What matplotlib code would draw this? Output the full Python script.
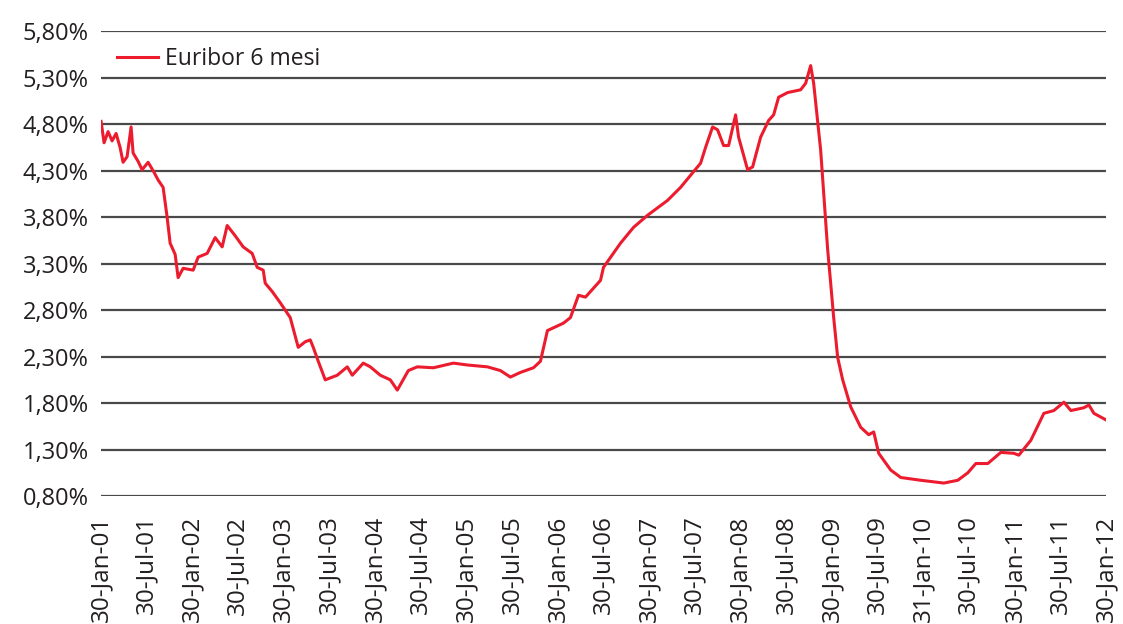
import matplotlib
matplotlib.use("Agg")
import matplotlib.pyplot as plt
import pandas as pd

plt.rcParams['font.family'] = ['Open Sans', 'DejaVu Sans']

# Euribor 6 mesi (%)
DATES = [
    "2001-01-30", "2001-02-11", "2001-02-27", "2001-03-15", "2001-03-31", "2001-04-16",
    "2001-04-28", "2001-05-14", "2001-05-30", "2001-06-07", "2001-06-27", "2001-07-13",
    "2001-08-06", "2001-08-26", "2001-09-15", "2001-10-05", "2001-10-21", "2001-11-02",
    "2001-11-22", "2001-12-04", "2001-12-24", "2002-01-13", "2002-02-02", "2002-02-22",
    "2002-03-30", "2002-05-01", "2002-05-29", "2002-06-18", "2002-07-20", "2002-08-21",
    "2002-09-26", "2002-10-16", "2002-11-09", "2002-11-17", "2002-12-15", "2003-01-16",
    "2003-02-25", "2003-03-29", "2003-04-26", "2003-05-16", "2003-05-28", "2003-06-17",
    "2003-07-15", "2003-09-01", "2003-10-11", "2003-10-31", "2003-12-14", "2004-01-11",
    "2004-02-20", "2004-03-31", "2004-04-28", "2004-06-11", "2004-07-17", "2004-09-19",
    "2004-12-08", "2005-02-02", "2005-04-23", "2005-06-14", "2005-07-24", "2005-09-02",
    "2005-10-24", "2005-11-21", "2005-12-19", "2006-02-21", "2006-03-21", "2006-04-22",
    "2006-05-20", "2006-07-19", "2006-07-31", "2006-10-07", "2006-11-28", "2007-01-23",
    "2007-04-13", "2007-06-04", "2007-07-14", "2007-08-23", "2007-09-12", "2007-10-10",
    "2007-10-30", "2007-11-23", "2007-12-13", "2008-01-10", "2008-01-22", "2008-02-27",
    "2008-03-18", "2008-04-19", "2008-05-21", "2008-06-10", "2008-06-30", "2008-08-05",
    "2008-09-26", "2008-10-16", "2008-11-05", "2008-11-17", "2008-12-15", "2009-01-12",
    "2009-01-24", "2009-02-05", "2009-02-21", "2009-03-13", "2009-04-14", "2009-05-24",
    "2009-06-25", "2009-07-15", "2009-08-04", "2009-09-21", "2009-10-31", "2010-01-19",
    "2010-04-21", "2010-06-16", "2010-07-26", "2010-08-27", "2010-10-14", "2010-12-05",
    "2011-01-26", "2011-02-15", "2011-04-04", "2011-05-26", "2011-07-05", "2011-08-14",
    "2011-09-11", "2011-11-02", "2011-11-22", "2011-12-12", "2012-01-29",
]
EURIBOR = [
    4.83, 4.60, 4.72, 4.62, 4.70, 4.55,
    4.39, 4.45, 4.77, 4.49, 4.40, 4.31,
    4.39, 4.30, 4.20, 4.12, 3.80, 3.52,
    3.40, 3.15, 3.25, 3.24, 3.23, 3.37,
    3.41, 3.58, 3.48, 3.71, 3.60, 3.48,
    3.41, 3.26, 3.23, 3.09, 3.00, 2.88,
    2.72, 2.40, 2.46, 2.48, 2.40, 2.25,
    2.05, 2.10, 2.19, 2.10, 2.23, 2.19,
    2.10, 2.05, 1.94, 2.15, 2.19, 2.18,
    2.23, 2.21, 2.19, 2.15, 2.08, 2.13,
    2.18, 2.25, 2.58, 2.66, 2.72, 2.96,
    2.94, 3.12, 3.26, 3.52, 3.69, 3.82,
    3.98, 4.12, 4.25, 4.38, 4.55, 4.77,
    4.74, 4.57, 4.57, 4.90, 4.66, 4.31,
    4.34, 4.66, 4.84, 4.90, 5.09, 5.14,
    5.17, 5.24, 5.43, 5.24, 4.52, 3.45,
    3.09, 2.72, 2.29, 2.05, 1.76, 1.54,
    1.46, 1.49, 1.26, 1.08, 1.00, 0.97,
    0.94, 0.97, 1.05, 1.15, 1.15, 1.27,
    1.26, 1.24, 1.40, 1.69, 1.72, 1.81,
    1.72, 1.75, 1.78, 1.69, 1.62,
]

TICK_DATES = [
    "2001-01-30", "2001-07-30", "2002-01-30", "2002-07-30", "2003-01-30", "2003-07-30",
    "2004-01-30", "2004-07-30", "2005-01-30", "2005-07-30", "2006-01-30", "2006-07-30",
    "2007-01-30", "2007-07-30", "2008-01-30", "2008-07-30", "2009-01-30", "2009-07-30",
    "2010-01-31", "2010-07-30", "2011-01-30", "2011-07-30", "2012-01-30",
]
TICK_LABELS = [
    "30-Jan-01", "30-Jul-01", "30-Jan-02", "30-Jul-02", "30-Jan-03", "30-Jul-03",
    "30-Jan-04", "30-Jul-04", "30-Jan-05", "30-Jul-05", "30-Jan-06", "30-Jul-06",
    "30-Jan-07", "30-Jul-07", "30-Jan-08", "30-Jul-08", "30-Jan-09", "30-Jul-09",
    "31-Jan-10", "30-Jul-10", "30-Jan-11", "30-Jul-11", "30-Jan-12",
]
Y_TICKS = [0.80, 1.30, 1.80, 2.30, 2.80, 3.30, 3.80, 4.30, 4.80, 5.30, 5.80]

dates = pd.to_datetime(DATES)
ticks = pd.to_datetime(TICK_DATES)

fig = plt.figure(figsize=(11.23, 6.24), dpi=100)
ax = fig.add_axes([0.09, 0.205, 0.895, 0.745])

ax.plot(dates, EURIBOR, color="#ec1c2e", lw=2.2, label="Euribor 6 mesi", zorder=3)

ax.set_ylim(0.80, 5.80)
ax.set_yticks(Y_TICKS)
ax.set_yticklabels(["{:.2f}%".format(v).replace(".", ",") for v in Y_TICKS])
ax.set_xlim(ticks[0], ticks[-1])
ax.set_xticks(ticks)
ax.set_xticklabels(TICK_LABELS, rotation=90)

ax.grid(axis="y", color="#4a4a4a", lw=1.6)
ax.set_axisbelow(True)
for s in ax.spines.values():
    s.set_visible(False)
ax.tick_params(axis="both", length=0, colors="#231f20")
ax.tick_params(axis="x", labelsize=17.5, pad=14)
ax.tick_params(axis="y", labelsize=17, pad=9)

leg = ax.legend(loc="upper left", frameon=False, fontsize=16.5, handlelength=1.8,
                handletextpad=0.3, bbox_to_anchor=(0.0, 1.0), borderaxespad=0.3)
for t in leg.get_texts():
    t.set_color("#231f20")

fig.savefig("out.png", dpi=100, facecolor="white")
